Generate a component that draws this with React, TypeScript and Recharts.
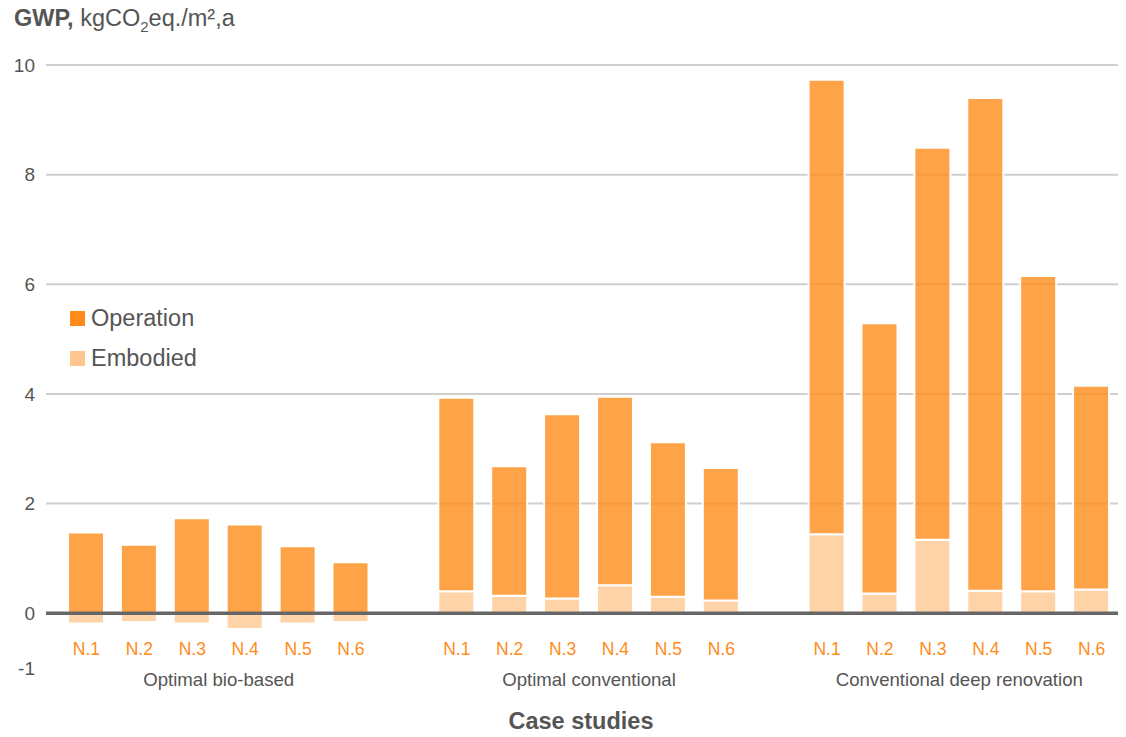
import { Bar, BarChart, CartesianGrid, ReferenceLine, XAxis, YAxis } from 'recharts'

const caseLabels = ['N.1', 'N.2', 'N.3', 'N.4', 'N.5', 'N.6']
const groupNames = ['Optimal bio-based', 'Optimal conventional', 'Conventional deep renovation']

const bioOperation = [1.47, 1.25, 1.73, 1.62, 1.22, 0.93]
const bioEmbodied = [-0.19, -0.16, -0.19, -0.29, -0.19, -0.16]
const convOperation = [3.53, 2.36, 3.36, 3.44, 2.82, 2.42]
const convEmbodied = [0.4, 0.32, 0.27, 0.51, 0.3, 0.23]
const deepOperation = [8.29, 4.93, 7.15, 8.99, 5.75, 3.72]
const deepEmbodied = [1.44, 0.36, 1.34, 0.41, 0.4, 0.43]

const yTicks = [-1, 0, 2, 4, 6, 8, 10]
const gridValues = [2, 4, 6, 8, 10]

const ORANGE = '#ff8c1a'
const LIGHT = '#ffc68f'
const GREY = '#555'
const FONT = '"Liberation Sans", Arial, sans-serif'

type Row = {
  id: string
  label: string
  group: string
  operation: number | null
  embodied: number | null
}

const groupSeries = [
  { op: bioOperation, emb: bioEmbodied },
  { op: convOperation, emb: convEmbodied },
  { op: deepOperation, emb: deepEmbodied }
]

// 6 bars per group, one empty slot between groups
const rows: Row[] = []
groupSeries.forEach((g, gi) => {
  if (gi > 0) rows.push({ id: `gap-${gi}`, label: '', group: '', operation: null, embodied: null })
  caseLabels.forEach((lab, i) => {
    rows.push({
      id: `${gi}-${lab}`,
      label: lab,
      group: i === 2 ? groupNames[gi] : '',
      operation: g.op[i],
      embodied: g.emb[i]
    })
  })
})

const HALF_SLOT = 26.45

function CaseTick(props: any) {
  const { x, y, payload } = props
  const row = rows[payload.index]
  if (!row) return null
  return (
    <g>
      <text x={x} y={y - 13} textAnchor="middle" fill={ORANGE} fontSize={17.5} fontFamily={FONT}>
        {row.label}
      </text>
      {row.group && (
        <text x={x + HALF_SLOT} y={y + 18} textAnchor="middle" fill={GREY} fontSize={18.6} fontFamily={FONT}>
          {row.group}
        </text>
      )}
    </g>
  )
}

const legendItems = [
  { name: 'Operation', color: ORANGE },
  { name: 'Embodied', color: LIGHT }
]

export default function App() {
  return (
    <div style={{ position: 'relative', width: 1126, height: 737, fontFamily: FONT, background: '#fff' }}>
      <style>{'body{margin:0}'}</style>
      <div style={{ position: 'absolute', left: 14, top: 5, fontSize: 23.5, color: GREY, whiteSpace: 'nowrap' }}>
        <b>GWP,</b> kgCO<sub style={{ fontSize: 15 }}>2</sub>eq./m²,a
      </div>
      <BarChart
        width={1126}
        height={737}
        data={rows}
        stackOffset="sign"
        barSize={36}
        margin={{ top: 65, right: 8, left: 0, bottom: 0 }}
      >
        <CartesianGrid vertical={false} horizontalValues={gridValues} stroke="#cfcfcf" strokeWidth={2} />
        <XAxis
          dataKey="id"
          interval={0}
          height={69}
          axisLine={false}
          tickLine={false}
          tickSize={0}
          tickMargin={0}
          padding={{ left: 14, right: 0 }}
          tick={<CaseTick />}
        />
        <YAxis
          width={46}
          domain={[-1, 10]}
          ticks={yTicks}
          interval={0}
          axisLine={false}
          tickLine={false}
          tickSize={0}
          tickMargin={11}
          tick={{ fill: GREY, fontSize: 19, fontFamily: FONT }}
        />
        <Bar
          dataKey="embodied"
          name="Embodied"
          stackId="gwp"
          fill={LIGHT}
          fillOpacity={0.78}
          stroke="#fff"
          strokeWidth={2}
          isAnimationActive={false}
        />
        <Bar
          dataKey="operation"
          name="Operation"
          stackId="gwp"
          fill={ORANGE}
          fillOpacity={0.8}
          stroke="#fff"
          strokeWidth={2}
          isAnimationActive={false}
        />
        <ReferenceLine y={0} stroke="#666" strokeWidth={3.5} />
      </BarChart>
      <div style={{ position: 'absolute', left: 0, width: 1162, top: 708, textAlign: 'center', fontSize: 23.5, fontWeight: 'bold', color: GREY }}>
        Case studies
      </div>
      <div style={{ position: 'absolute', left: 70, top: 298 }}>
        {legendItems.map(item => (
          <div key={item.name} style={{ display: 'flex', alignItems: 'center', height: 40 }}>
            <span style={{ width: 15, height: 15, background: item.color, display: 'inline-block', marginRight: 6 }} />
            <span style={{ fontSize: 23.5, color: GREY }}>{item.name}</span>
          </div>
        ))}
      </div>
    </div>
  )
}
